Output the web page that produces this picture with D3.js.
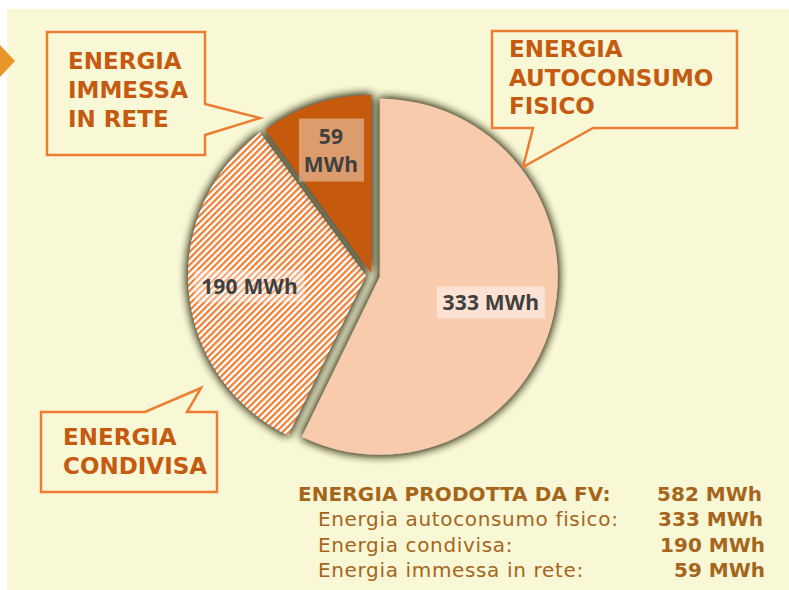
<!DOCTYPE html>
<html><head><meta charset="utf-8">
<script src="https://cdn.jsdelivr.net/npm/d3@7"></script>
<style>
html,body{margin:0;padding:0;background:#fff;}
svg{display:block;}
</style></head>
<body>
<svg id="chart" width="789" height="590"></svg>
<script>
// ---- data ----
const categories = ["Energia autoconsumo fisico", "Energia condivisa", "Energia immessa in rete"];
const values = [333, 190, 59];
const valueLabels = ["333 MWh", "190 MWh", "59 MWh"];
const calloutTitles = [["ENERGIA", "AUTOCONSUMO", "FISICO"], ["ENERGIA", "CONDIVISA"], ["ENERGIA", "IMMESSA", "IN RETE"]];
const summaryTitle = "ENERGIA PRODOTTA DA FV:";
const unit = "MWh";

// ---- layout ----
const svg = d3.select("#chart");
const W = 789, H = 590;
const cx = 372, cy = 275, R = 178;
const explode = [8, 6, 2];
const labelR = [114, 117, 129];
const fills = ["#f8cbad", "url(#hatch)", "#c55a11"];
const accent = "#c55a11", lineCol = "#ed7d31", brown = "#a5661c";

const defs = svg.append("defs");
const pat = defs.append("pattern").attr("id", "hatch").attr("patternUnits", "userSpaceOnUse")
  .attr("width", 4.6).attr("height", 4.6).attr("patternTransform", "rotate(45)");
pat.append("rect").attr("width", 4.6).attr("height", 4.6).attr("fill", "#ffffff");
pat.append("rect").attr("width", 2.2).attr("height", 4.6).attr("fill", lineCol);

const f = defs.append("filter").attr("id", "shadow").attr("x", "-20%").attr("y", "-20%").attr("width", "140%").attr("height", "140%");
f.append("feGaussianBlur").attr("in", "SourceAlpha").attr("stdDeviation", 5).attr("result", "b");
f.append("feFlood").attr("flood-color", "#3a3a22").attr("flood-opacity", 1);
f.append("feComposite").attr("in2", "b").attr("operator", "in").attr("result", "s");
const m = f.append("feMerge");
m.append("feMergeNode").attr("in", "s");
m.append("feMergeNode").attr("in", "s");
m.append("feMergeNode").attr("in", "SourceGraphic");

// background
svg.append("rect").attr("x", 7).attr("y", 9).attr("width", W - 7).attr("height", H - 9).attr("fill", "#f8f7d6");
// left arrow marker
svg.append("path").attr("d", "M0,45 L15,61 L0,77 Z").attr("fill", "#e8952a");

// ---- pie ----
const pie = d3.pie().sort(null).value(d => d)(values);
const arc = d3.arc().innerRadius(0).outerRadius(R);
const gPie = svg.append("g").attr("transform", `translate(${cx},${cy})`);

const offs = pie.map((p, i) => {
  const a = (p.startAngle + p.endAngle) / 2;
  return [Math.sin(a) * explode[i], -Math.cos(a) * explode[i]];
});

gPie.selectAll("path.slice").data(pie).join("path")
  .attr("class", "slice")
  .attr("transform", (d, i) => `translate(${offs[i][0]},${offs[i][1]})`)
  .attr("d", arc)
  .attr("fill", (d, i) => fills[i])
  .attr("filter", "url(#shadow)");

// labels
const labelFont = "'Open Sans', sans-serif";
pie.forEach((p, i) => {
  const a = (p.startAngle + p.endAngle) / 2;
  const x = offs[i][0] + Math.sin(a) * labelR[i];
  const y = offs[i][1] - Math.cos(a) * labelR[i];
  const g = gPie.append("g").attr("transform", `translate(${x},${y})`);
  if (i === 2) {
    g.append("rect").attr("x", -32).attr("y", -32).attr("width", 65).attr("height", 63)
      .attr("fill", "#fff").attr("fill-opacity", 0.4);
    const parts = valueLabels[i].split(" ");
    g.append("text").attr("y", -7).attr("text-anchor", "middle").text(parts[0]);
    g.append("text").attr("y", 21).attr("text-anchor", "middle").text(parts[1]);
  } else {
    const bw = i === 0 ? 108 : 110, bh = 32;
    g.append("rect").attr("x", -bw / 2).attr("y", -bh / 2).attr("width", bw).attr("height", bh)
      .attr("fill", "#fff").attr("fill-opacity", i === 0 ? 0.45 : 0.35);
    g.append("text").attr("y", 8).attr("text-anchor", "middle").text(valueLabels[i]);
  }
  g.selectAll("text").attr("font-family", labelFont).attr("font-weight", 700)
    .attr("font-size", 21).attr("letter-spacing", 0.2).attr("fill", "#404040");
});

// ---- callouts ----
const calloutFont = "'DejaVu Sans', sans-serif";
const callouts = [
  { path: "M492,31 L737,31 L737,128 L593,128 L523,167 L533,128 L492,128 Z", x: 509, y0: 57, lh: 28.5, idx: 0 },
  { path: "M41,412 L145,412 L201,388 L187,412 L217,412 L217,492 L41,492 Z", x: 63, y0: 445, lh: 29, idx: 1 },
  { path: "M47,32 L205,32 L205,104 L260,118 L205,135 L205,155 L47,155 Z", x: 68, y0: 69, lh: 29, idx: 2 }
];
callouts.forEach(c => {
  svg.append("path").attr("d", c.path).attr("fill", "#f8f7d6").attr("stroke", lineCol)
    .attr("stroke-width", 2.5).attr("stroke-linejoin", "miter");
  const t = svg.append("text").attr("font-family", calloutFont).attr("font-weight", 700)
    .attr("font-size", 23).attr("fill", accent);
  calloutTitles[c.idx].forEach((s, j) => {
    t.append("tspan").attr("x", c.x).attr("y", c.y0 + j * c.lh).text(s);
  });
});

// ---- summary ----
const total = d3.sum(values);
const sumFont = "'DejaVu Sans', sans-serif";
const rows = [{ label: summaryTitle, val: `${total} ${unit}`, bold: true, x: 298, y: 501 }]
  .concat(categories.map((c, i) => ({ label: c + ":", val: valueLabels[i], bold: false, x: 318, y: 526 + i * 25.5 })));
const rightX = [762, 763, 765, 765];
rows.forEach((r, i) => {
  svg.append("text").attr("x", r.x).attr("y", r.y).attr("font-family", sumFont)
    .attr("font-weight", r.bold ? 700 : 400).attr("font-size", 20)
    .attr("letter-spacing", r.bold ? 0.1 : 0.65)
    .attr("fill", brown).text(r.label);
  svg.append("text").attr("x", rightX[i]).attr("y", r.y).attr("text-anchor", "end")
    .attr("font-family", sumFont).attr("font-weight", 700).attr("font-size", 20)
    .attr("fill", brown).text(r.val);
});
</script>
</body></html>
